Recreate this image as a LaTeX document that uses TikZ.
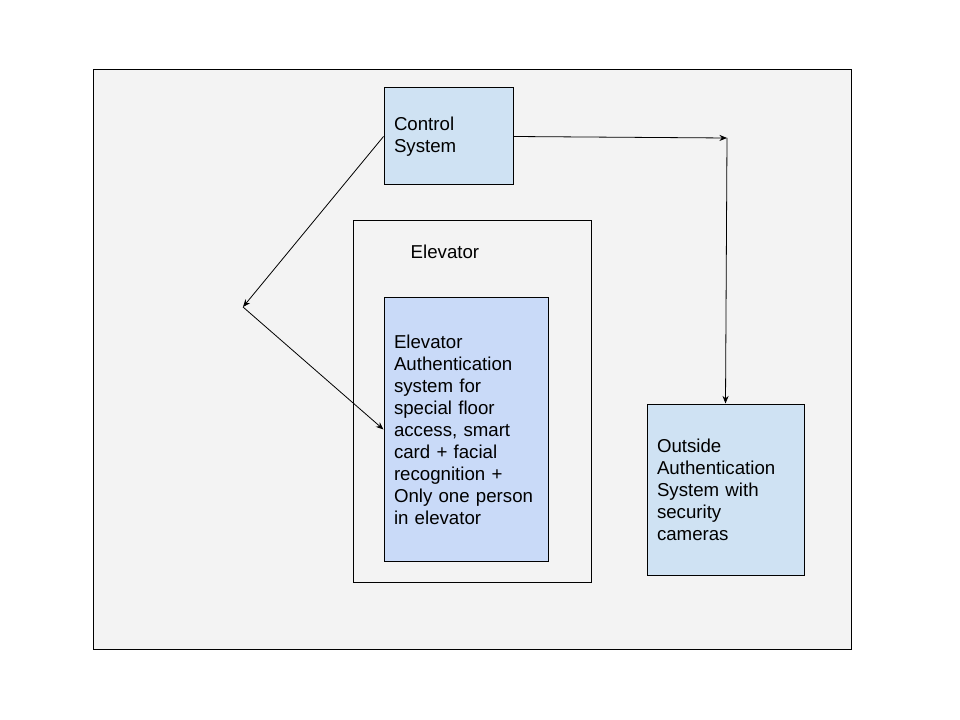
\documentclass[tikz,border=0pt]{standalone}
\usepackage{fontspec}
\setmainfont{Liberation Sans}
\usetikzlibrary{arrows.meta, positioning, calc}
\definecolor{panelgray}{HTML}{F3F3F3}
\definecolor{lightblue}{HTML}{CFE2F3}
\definecolor{cornblue}{HTML}{C9DAF8}
\hyphenpenalty=10000
\exhyphenpenalty=10000

\begin{document}
\begin{tikzpicture}[x=0.75pt, y=-0.75pt, >={Stealth[length=2mm, width=1.6mm]},
  box/.style={draw=black, line width=0.75pt, rectangle, align=left, inner xsep=7.5pt,
    font=\fontsize{14}{16.5}\selectfont},
  link/.style={->, line width=0.6pt}]

% Background
\useasboundingbox (0,0) rectangle (960,720);
\fill[white] (0,0) rectangle (960,720);
\draw[fill=panelgray, line width=0.75pt] (93,70) rectangle (851,649);

% Elevator frame
\draw[fill=panelgray, line width=0.75pt] (353,221) rectangle (591,582);
\node[anchor=west, font=\fontsize{14}{16.5}\selectfont] (elevlabel) at (406,252) {Elevator};

% Boxes
\node[box, fill=lightblue, minimum width=96.75pt, minimum height=72.75pt, text width=81.75pt]
  (ctrl) at (448.5,136.5) {Control System};
\node[box, fill=cornblue, minimum width=123pt, minimum height=197.25pt, text width=108pt]
  (auth) at (466,429.5) {Elevator Authentication system for special floor access, smart card + facial recognition + Only one person in elevator};
\node[box, fill=lightblue, minimum width=117.75pt, minimum height=128.25pt, text width=102.75pt]
  (outside) at (725.5,489.5) {Outside Authentication System with security cameras};

% Turning points
\coordinate (turnR) at (727,138);
\coordinate (turnL) at (243,307);

% Connectors
\draw[link] (ctrl.east) -- (turnR);
\draw[link] (turnR) -- (outside.north);
\draw[link] (ctrl.west) -- (turnL);
\draw[link] (turnL) -- (auth.west);

\end{tikzpicture}
\end{document}
